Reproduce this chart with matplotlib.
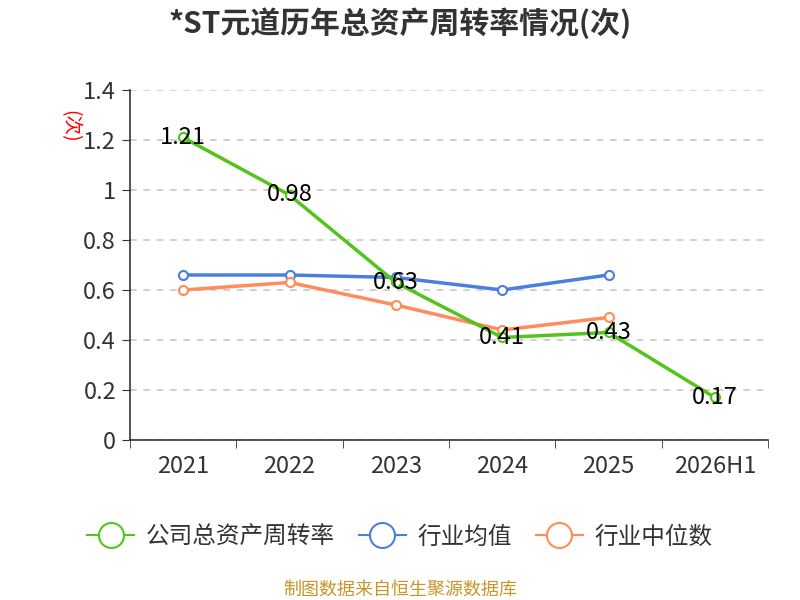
import matplotlib
matplotlib.use("Agg")
import matplotlib.pyplot as plt
import numpy as np

plt.rcParams['font.family'] = ['Noto Sans CJK SC', 'DejaVu Sans']

#=== DATA ===#
years = ['2021', '2022', '2023', '2024', '2025', '2026H1']
company = [1.21, 0.98, 0.63, 0.41, 0.43, 0.17]
ind_mean = [0.66, 0.66, 0.65, 0.60, 0.66]
ind_median = [0.60, 0.63, 0.54, 0.44, 0.49]
yticks = [0, 0.2, 0.4, 0.6, 0.8, 1.0, 1.2, 1.4]
ytick_labels = ['0', '0.2', '0.4', '0.6', '0.8', '1', '1.2', '1.4']

green = '#52c41a'
blue = '#4a7fe0'
orange = '#ff8c5a'

fig = plt.figure(figsize=(8, 6), dpi=100)
ax = fig.add_axes([0.1625, 0.2667, 0.7975, 0.5833])

x = np.arange(len(years))
ax.plot(x[:len(ind_mean)], ind_mean, color=blue, lw=2.5, marker='o', ms=6.5,
        mfc='white', mec=blue, mew=1.5, label='行业均值', zorder=3)
ax.plot(x[:len(ind_median)], ind_median, color=orange, lw=2.5, marker='o', ms=6.5,
        mfc='white', mec=orange, mew=1.5, label='行业中位数', zorder=3)
ax.plot(x, company, color=green, lw=2.5, marker='o', ms=6.5,
        mfc='white', mec=green, mew=1.5, label='公司总资产周转率', zorder=4)

# company values drawn right on top of the points
for xi, v in zip(x, company):
    ax.text(xi, v, f'{v:.2f}', ha='center', va='center', fontsize=17,
            color='black', zorder=5)

ax.set_xlim(-0.5, len(years) - 0.5)
ax.set_ylim(0, 1.4)
ax.set_yticks(yticks)
ax.set_yticklabels(ytick_labels)
ax.set_xticks(x)
ax.set_xticklabels(years)
ax.set_xticks(np.arange(-0.5, len(years)), minor=True)
ax.tick_params(axis='x', which='major', length=0, pad=11, labelsize=17, labelcolor='#333333')
ax.tick_params(axis='x', which='minor', length=6, color='#333333')
ax.tick_params(axis='y', length=6, color='#333333', labelsize=17, labelcolor='#333333', pad=4)

ax.grid(axis='y', ls=(0, (4, 4)), color='#c8c8c8', lw=1.2)
ax.set_axisbelow(True)
for s in ['top', 'right']:
    ax.spines[s].set_visible(False)
for s in ['left', 'bottom']:
    ax.spines[s].set_color('#333333')
    ax.spines[s].set_linewidth(1.2)

fig.text(0.0875, 0.79, '(次)', rotation=270, color='red', fontsize=14,
         ha='center', va='center')

fig.text(0.5, 0.962, '*ST元道历年总资产周转率情况(次)', ha='center', va='center',
         fontsize=21.5, fontweight='bold', color='#333333')

handles, labels = ax.get_legend_handles_labels()
order = [2, 0, 1]
leg_handles = []
for i in order:
    h = plt.Line2D([], [], color=handles[i].get_color(), lw=1.5, marker='o', ms=18,
                   mfc='white', mec=handles[i].get_color(), mew=1.5)
    leg_handles.append(h)
fig.legend(leg_handles, [labels[i] for i in order], loc='center',
           bbox_to_anchor=(0.5, 0.105), ncol=3, frameon=False, fontsize=17,
           handlelength=2.0, columnspacing=1.0, handletextpad=0.5,
           labelcolor='#333333')

fig.text(0.5, 0.017, '制图数据来自恒生聚源数据库', ha='center', va='center',
         fontsize=13, color='#c8962a')

fig.savefig('out.png', dpi=100)
